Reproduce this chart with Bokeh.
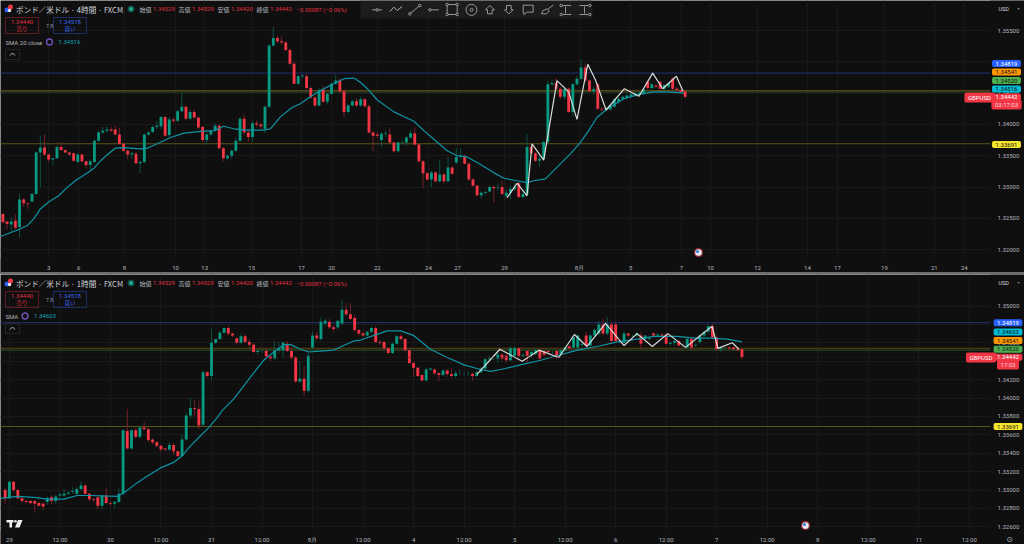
from bokeh.plotting import figure
from bokeh.layouts import column
from bokeh.models import Label, FixedTicker, NumeralTickFormatter, Spacer
from bokeh.embed import file_html
from bokeh.resources import INLINE

# ---------- data: 4-hour panel (prices in units of 0.0001) ----------
h4_open = [13257,13245,13240,13246,13236,13280,13274,13277,13289,13355,13363,13352,13344,13346,13364,13359,13355,13354,13340,13352,13341,13335,13340,13374,13387,13390,13392,13392,13384,13369,13358,13352,13353,13338,13340,13384,13388,13396,13397,13412,13383,13408,13406,13421,13428,13409,13420,13411,13396,13375,13384,13390,13398,13362,13346,13350,13358,13374,13409,13387,13380,13402,13400,13393,13428,13526,13538,13533,13531,13519,13497,13465,13477,13477,13458,13443,13430,13455,13436,13449,13465,13470,13453,13420,13430,13437,13430,13440,13429,13387,13384,13375,13385,13384,13371,13357,13371,13371,13379,13386,13368,13341,13322,13312,13323,13309,13320,13309,13331,13339,13348,13348,13337,13312,13302,13287,13291,13293,13300,13298,13300,13286,13291,13297,13306,13284,13289,13364,13354,13342,13345,13372,13464,13466,13457,13444,13457,13420,13464,13473,13491,13470,13453,13464,13425,13424,13424,13428,13436,13441,13442,13444,13446,13448,13450,13468,13458,13462,13468,13457,13460,13473,13457,13455,13453]
h4_high = [13258,13246,13252,13256,13290,13282,13274,13290,13356,13382,13384,13352,13346,13366,13372,13360,13356,13355,13354,13353,13342,13344,13376,13390,13396,13398,13396,13398,13394,13370,13360,13356,13356,13342,13386,13390,13398,13406,13414,13414,13412,13410,13424,13450,13430,13424,13424,13412,13398,13386,13392,13402,13400,13364,13352,13360,13378,13412,13416,13392,13406,13406,13402,13430,13528,13556,13542,13540,13533,13521,13500,13479,13480,13480,13460,13445,13458,13462,13450,13467,13480,13474,13455,13433,13439,13442,13444,13442,13432,13390,13388,13388,13390,13395,13372,13373,13374,13381,13392,13395,13370,13343,13324,13326,13325,13344,13323,13348,13333,13362,13362,13352,13339,13314,13304,13293,13294,13302,13302,13305,13310,13296,13302,13308,13308,13295,13385,13367,13356,13350,13374,13470,13472,13474,13460,13460,13459,13466,13478,13505,13498,13472,13460,13466,13428,13428,13432,13442,13444,13446,13448,13450,13452,13454,13458,13470,13466,13464,13470,13464,13468,13476,13460,13458,13453]
h4_low = [13241,13232,13228,13232,13219,13268,13265,13277,13289,13300,13350,13340,13335,13345,13358,13354,13350,13340,13339,13339,13330,13328,13338,13372,13385,13386,13388,13383,13368,13356,13344,13345,13336,13322,13338,13382,13386,13392,13392,13380,13380,13402,13404,13420,13407,13406,13408,13392,13372,13368,13382,13388,13360,13341,13342,13346,13356,13372,13385,13372,13372,13396,13392,13386,13426,13524,13530,13528,13517,13495,13464,13463,13474,13456,13441,13428,13428,13434,13432,13447,13463,13450,13412,13418,13428,13428,13428,13427,13385,13358,13378,13364,13380,13370,13355,13356,13368,13366,13377,13366,13339,13298,13310,13300,13307,13307,13306,13308,13319,13337,13345,13336,13310,13301,13285,13282,13288,13291,13275,13294,13287,13282,13280,13294,13282,13282,13287,13352,13340,13332,13344,13370,13462,13455,13440,13440,13418,13412,13462,13471,13468,13452,13448,13423,13420,13422,13422,13427,13434,13439,13440,13442,13444,13446,13448,13456,13456,13458,13455,13455,13458,13455,13452,13450,13442]
h4_close = [13244,13241,13245,13235,13280,13274,13273,13289,13355,13363,13352,13344,13346,13364,13359,13355,13352,13342,13352,13341,13335,13341,13374,13387,13390,13392,13390,13384,13369,13358,13352,13354,13338,13340,13384,13387,13396,13398,13412,13382,13408,13406,13421,13428,13409,13420,13411,13395,13375,13384,13390,13398,13362,13346,13350,13358,13374,13409,13387,13380,13402,13400,13397,13428,13526,13538,13533,13531,13519,13497,13465,13477,13478,13458,13443,13430,13455,13436,13449,13465,13470,13453,13420,13430,13437,13430,13440,13429,13387,13382,13382,13385,13386,13371,13357,13371,13372,13379,13386,13368,13341,13322,13312,13323,13309,13320,13309,13331,13321,13348,13349,13337,13312,13302,13287,13291,13292,13300,13298,13299,13289,13291,13297,13300,13284,13289,13364,13354,13342,13345,13372,13464,13466,13457,13444,13457,13420,13464,13473,13491,13470,13453,13456,13425,13424,13426,13430,13440,13441,13444,13446,13448,13449,13450,13456,13458,13464,13460,13457,13463,13466,13457,13455,13452,13444.2]

h4_sma_idx = [-0.6,1,3.4,5.8,7.4,9,11,13.4,15.4,17.4,20.2,21.9,23.5,25,27,29,33,34.7,37.1,40.3,43.5,47.5,50.7,53.1,55.5,58.7,62.7,64.3,66.7,69.5,71.5,73.9,76.3,79.5,82,84.4,86,87.6,90,94,98.8,101.2,104,106.8,109.2,111.6,114,118,120.4,123.6,126,127.6,130.4,132.8,136.4,138.8,140.8,142.8,145.3,149.3,152.9,156.5,159.7,163.7]
h4_sma = [13221,13225,13231,13238,13249,13265,13276,13286,13299,13310,13322,13330,13342,13351,13362,13363,13361,13362,13369,13379,13386,13389,13390,13397,13393,13391,13391,13393,13412,13427,13433,13444,13454,13465,13473,13474,13467,13457,13439,13420,13405,13390,13374,13358,13350,13348,13339,13323,13314,13310,13307,13310,13313,13329,13353,13371,13390,13411,13425,13441,13448,13452,13452,13450]
h4_zig_idx = [121.2,123.6,126,127.2,130,133.2,136,138,140.6,142.5,145,149.4,152.9,156.2,158.6,161.9,163.5]
h4_zig = [13283,13306,13286,13369,13343,13470,13452,13408,13496,13470,13423,13457,13445,13482,13457,13477,13453]
h4_tick_pos = [11,18.2,29.2,41.5,48.5,59.8,71.8,79,90,102.3,109.3,120.6,138.6,150.9,163.1,170.1,181.4,193.4,200.6,211.9,223.9,231.1]
h4_tick_txt = ["3","6","8","10","13","15","17","20","22","24","27","29","8月","5","7","10","12","14","17","19","21","24"]
h4_price_ticks = [1.355,1.35,1.345,1.34,1.335,1.33,1.325,1.32]

# ---------- data: 1-hour panel ----------
h1_open = [13300,13291,13309,13300,13291,13288,13288,13288,13286,13285,13287,13292,13288,13294,13294,13296,13298,13296,13301,13305,13296,13290,13292,13283,13294,13286,13285,13287,13296,13364,13345,13365,13358,13368,13366,13355,13352,13348,13345,13344,13349,13342,13337,13355,13381,13389,13388,13371,13428,13424,13460,13464,13471,13476,13470,13465,13460,13467,13461,13458,13450,13451,13451,13445,13443,13452,13452,13459,13451,13444,13418,13421,13408,13455,13468,13464,13481,13483,13477,13477,13481,13496,13491,13487,13474,13470,13468,13472,13476,13461,13461,13454,13449,13459,13467,13464,13452,13438,13433,13425,13419,13431,13431,13427,13425,13430,13426,13424,13427,13426,13426,13426,13424,13428,13432,13442,13443,13443,13447,13446,13441,13446,13454,13446,13451,13447,13448,13452,13451,13451,13450,13451,13447,13452,13456,13455,13455,13458,13468,13457,13468,13470,13480,13470,13480,13480,13461,13460,13470,13468,13468,13468,13464,13464,13470,13468,13469,13469,13459,13460,13462,13458,13455,13464,13457,13461,13468,13472,13478,13466,13453,13454,13455,13455,13453,13452.9]
h1_high = [13302,13310,13310,13301,13292,13289,13289,13289,13287,13286,13293,13294,13295,13297,13301,13299,13303,13303,13309,13306,13297,13291,13294,13295,13303,13288,13288,13302,13366,13388,13366,13368,13370,13374,13368,13356,13353,13349,13346,13352,13351,13343,13361,13384,13400,13398,13397,13430,13430,13475,13464,13473,13477,13478,13471,13466,13470,13470,13464,13460,13453,13453,13453,13446,13462,13461,13462,13462,13455,13446,13440,13435,13450,13472,13472,13488,13486,13486,13479,13484,13507,13503,13503,13490,13475,13472,13473,13478,13478,13463,13462,13455,13460,13469,13470,13465,13453,13439,13434,13426,13433,13433,13432,13428,13431,13431,13432,13430,13431,13428,13429,13428,13430,13434,13444,13446,13446,13450,13449,13448,13456,13456,13455,13448,13452,13452,13454,13454,13452,13452,13451,13452,13453,13456,13458,13467,13469,13460,13472,13470,13476,13484,13486,13488,13482,13482,13462,13472,13471,13469,13472,13471,13468,13466,13471,13470,13470,13470,13461,13464,13463,13459,13466,13466,13459,13469,13473,13480,13481,13467,13456,13456,13456,13456,13454,13453]
h1_low = [13285,13290,13298,13290,13286,13286,13284,13276,13282,13278,13284,13284,13285,13292,13293,13295,13296,13294,13299,13295,13288,13287,13279,13279,13285,13283,13280,13286,13295,13344,13344,13356,13356,13365,13353,13350,13346,13342,13342,13342,13338,13335,13336,13354,13378,13380,13366,13369,13422,13420,13459,13463,13470,13468,13466,13458,13459,13460,13454,13449,13447,13449,13443,13440,13442,13449,13444,13450,13442,13416,13416,13402,13406,13453,13463,13462,13478,13475,13472,13475,13480,13489,13485,13472,13468,13467,13467,13470,13460,13458,13452,13448,13448,13458,13462,13451,13437,13423,13423,13418,13418,13430,13425,13418,13424,13423,13422,13421,13425,13424,13424,13419,13423,13427,13431,13440,13441,13438,13441,13439,13440,13444,13444,13445,13438,13443,13446,13441,13445,13448,13448,13443,13445,13451,13452,13454,13454,13456,13455,13456,13466,13468,13468,13468,13460,13460,13459,13459,13466,13466,13466,13453,13463,13462,13467,13467,13467,13458,13457,13457,13456,13455,13453,13452,13456,13459,13466,13470,13464,13452,13450,13452,13452,13452,13451,13442]
h1_close = [13291,13309,13300,13291,13288,13287,13286,13285,13283,13282,13291,13288,13293,13295,13296,13297,13299,13301,13305,13296,13290,13289,13283,13294,13286,13285,13287,13296,13365,13345,13365,13358,13368,13366,13354,13352,13348,13344,13344,13349,13342,13337,13355,13381,13389,13388,13370,13428,13424,13460,13464,13471,13476,13470,13468,13460,13467,13461,13458,13450,13451,13451,13445,13443,13452,13454,13460,13451,13444,13418,13421,13408,13446,13468,13465,13483,13484,13477,13475,13484,13496,13491,13486,13474,13470,13468,13472,13476,13461,13460,13454,13449,13459,13467,13464,13452,13438,13433,13424,13419,13431,13432,13427,13425,13430,13426,13424,13427,13427,13426,13426,13424,13428,13432,13442,13443,13443,13447,13443,13441,13454,13454,13446,13447,13446,13450,13452,13443,13447,13450,13450,13444,13452,13455,13454,13466,13468,13459,13457,13468,13474,13480,13470,13480,13462,13462,13461,13470,13468,13468,13470,13459,13468,13465,13468,13469,13468,13459,13460,13462,13457,13458,13464,13455,13458,13468,13472,13478,13466,13453,13454,13454,13454,13453,13452,13444.2]

h1_sma_idx = [-1,2.9,6.8,10,13.9,17.1,20.3,26.6,28.2,31.4,33.7,36.9,40,42,44,46.4,48.4,50.4,51.5,54.3,58.3,61.4,63.8,66.2,67.8,70.2,72.1,74.9,78,80.4,82.8,84.4,87.6,90.7,93.9,97,101,105,109,112.9,115.3,117.7,122.4,127.2,131.9,135.9,140.6,145.4,150.1,154.1,159.6,163.6,167.5,171.5,175]
h1_sma = [13291,13293,13292,13290,13290,13294,13294,13293,13297,13308,13315,13324,13330,13337,13348,13359,13368,13379,13386,13399,13423,13441,13450,13458,13458,13453,13450,13451,13452,13457,13462,13463,13468,13473,13473,13468,13453,13444,13436,13431,13429,13431,13436,13441,13447,13452,13456,13461,13464,13467,13467,13465,13465,13464,13461]
h1_zig_idx = [112.1,117.5,122.8,126.8,131.5,135.2,138.2,142.6,147,150.1,153.7,157.4,161.6,167.9,169.3,172.7,174.3]
h1_zig = [13426,13453,13440,13452,13444,13469,13456,13481,13457,13470,13456,13470,13455,13478,13454,13460,13453]
h1_tick_pos = [1,13,25,37,49,61,73,85,97,109,121,133,145,157,169,181,193,205,217,229]
h1_tick_txt = ["29","12:00","30","12:00","31","12:00","8月","12:00","4","12:00","5","12:00","6","12:00","7","12:00","8","12:00","11","12:00"]
h1_price_ticks = [1.35,1.348,1.346,1.344,1.342,1.34,1.338,1.336,1.334,1.332,1.33,1.328,1.326]

levels = [1.34819, 1.34541, 1.34520, 1.33691]
level_cols = ["#1d2a63", "#5e4310", "#2c4a28", "#5c5518"]

BG = "#0f0f0f"; UP = "#089981"; DN = "#f23645"; TXT = "#b2b5be"; FONT = "Roboto"; JP = "Noto Sans CJK JP"
UPW = "#0b5f51"; DNW = "#8a2530"


def price(v):
    return [a / 1e4 for a in v]


def panel(o, h, l, c, sma_i, sma, zig_i, zig, tp, tt, pt, fx, fy, y_top, y_axis, y_bot, fig_h):
    # the frame fills the figure, so the price tags can sit over the scale; both axes are pinned inside it
    p = figure(width=1024, height=fig_h, x_range=(fx(0), fx(1024)), y_range=(fy(y_bot), fy(y_top)),
               y_axis_location="right", output_backend="svg", toolbar_location=None,
               background_fill_color=BG, border_fill_color=BG, min_border=0,
               min_border_left=0, min_border_top=0, min_border_right=0, min_border_bottom=0)
    p.outline_line_color = None
    for ax in (p.xaxis[0], p.yaxis[0]):
        ax.axis_line_color = None
        ax.major_tick_line_color = None
        ax.minor_tick_line_color = None
        ax.major_tick_out = 0
        ax.major_tick_in = 0
        ax.minor_tick_out = 0
        ax.minor_tick_in = 0
        ax.major_label_text_color = TXT
        ax.major_label_text_font = FONT
        ax.major_label_text_font_size = "6px"
    p.yaxis[0].ticker = FixedTicker(ticks=pt)
    p.yaxis[0].formatter = NumeralTickFormatter(format="0.00000")
    p.yaxis[0].major_label_standoff = 7
    p.yaxis[0].fixed_location = fx(990)
    p.xaxis[0].ticker = FixedTicker(ticks=tp)
    p.xaxis[0].major_label_overrides = {float(a): b for a, b in zip(tp, tt)}
    p.xaxis[0].major_label_standoff = 5
    p.xaxis[0].fixed_location = fy(y_axis)
    p.xgrid.grid_line_color = "#191919"
    p.ygrid.grid_line_color = "#191919"
    # blank the scale strips over the grid
    p.quad(left=fx(990), right=fx(1024), top=fy(y_top), bottom=fy(y_bot), fill_color=BG, line_color=None)
    p.quad(left=fx(0), right=fx(1024), top=fy(y_axis), bottom=fy(y_bot), fill_color=BG, line_color=None)
    x_all = [fx(0), fx(990)]
    for lv, col in zip(levels, level_cols):
        p.line(x_all, [lv, lv], line_color=col, line_width=1.1)
    idx = list(range(len(o)))
    po, ph, pl, pc = price(o), price(h), price(l), price(c)
    wick = [UPW if b >= a else DNW for a, b in zip(po, pc)]
    body = [UP if b >= a else DN for a, b in zip(po, pc)]
    p.segment(idx, ph, idx, pl, line_color=wick, line_width=0.8)
    p.vbar(idx, 0.68, po, pc, fill_color=body, line_color=None)
    p.line(sma_i, price(sma), line_color="#0f93a6", line_width=1.2)
    p.line(zig_i, price(zig), line_color="#dcdcdc", line_width=1.2)
    return p


def txt(p, fx, fy, px, py, s, col=TXT, size=6, font=FONT, align="left", **kw):
    p.add_layout(Label(x=fx(px), y=fy(py), text=s, text_color=col, text_font_size=f"{size}px",
                       text_font=font, text_align=align, text_baseline="middle", **kw))


def tag(p, fx, fy, py, s, bg, col, width_px=1006):
    p.add_layout(Label(x=fx(width_px), y=fy(py), text=s, text_color=col, text_font_size="6px", text_font=FONT,
                       text_align="center", text_baseline="middle", background_fill_color=bg,
                       border_line_color=bg, border_line_width=1, padding=(3, 1), border_radius=1))


def poly(p, fx, fy, pts, col=TXT, width=0.8):
    p.line([fx(a) for a, b in pts], [fy(b) for a, b in pts], line_color=col, line_width=width)


def header(p, fx, fy, top, frame, sma_txt, sma_val, sma_x, val_x):
    p.scatter([fx(6.5)], [fy(top + 9.5)], size=5, fill_color="#2962ff", line_color=None)
    p.scatter([fx(10)], [fy(top + 6.5)], size=5, fill_color="#f23645", line_color=None)
    p.scatter([fx(9)], [fy(top + 10)], size=3.5, fill_color="#e8e8e8", line_color=None)
    txt(p, fx, fy, 15.5, top + 8.5, frame, "#d1d4dc", 7.6, JP)
    p.scatter([fx(130.5)], [fy(top + 8.5)], size=7, fill_color="#0f4a41", line_color=None)
    p.scatter([fx(130.5)], [fy(top + 8.5)], size=4, fill_color="#22ab94", line_color=None)
    for x, a, v in [(139, "始値", "1.34529"), (178, "高値", "1.34529"), (217, "安値", "1.34420"), (256, "終値", "1.34442")]:
        txt(p, fx, fy, x, top + 8.5, a, TXT, 6, JP)
        txt(p, fx, fy, x + 13.5, top + 8.5, v, "#e0303f", 6)
    txt(p, fx, fy, 296, top + 8.5, "−0.00087 (−0.06%)", "#e0303f", 6)
    for x0, col, v, t in [(5, "#6a1d26", "1.34440", "売り"), (53, "#1d3274", "1.34518", "買い")]:
        poly(p, fx, fy, [(x0, top + 17), (x0 + 33, top + 17), (x0 + 33, top + 33), (x0, top + 33), (x0, top + 17)], col, 0.9)
        tc = "#e0303f" if x0 == 5 else "#3a68f0"
        txt(p, fx, fy, x0 + 16.5, top + 21.5, v, tc, 6, FONT, "center")
        txt(p, fx, fy, x0 + 16.5, top + 28, t, tc, 5.5, JP, "center")
    txt(p, fx, fy, 45.5, top + 25, "7.8", "#9598a1", 5)
    txt(p, fx, fy, 5, top + 41.5, sma_txt, TXT, 6)
    p.scatter([fx(sma_x)], [fy(top + 41.5)], size=6, fill_color=BG, line_color="#6f52b5", line_width=1.4)
    txt(p, fx, fy, val_x, top + 41.5, sma_val, "#12a3b8", 6)
    poly(p, fx, fy, [(5, top + 49), (19, top + 49), (19, top + 59), (5, top + 59), (5, top + 49)], "#2a2a2a", 0.8)
    poly(p, fx, fy, [(9.5, top + 55), (12, top + 52.5), (14.5, top + 55)], "#d1d4dc", 0.9)


# ---------- 4-hour panel ----------
top_x = lambda px: (px - 2.4) / 4.16
top_y = lambda py: (13550 - (py - 30) * 1.5974) / 1e4
p1 = panel(h4_open, h4_high, h4_low, h4_close, h4_sma_idx, h4_sma, h4_zig_idx, h4_zig,
           h4_tick_pos, h4_tick_txt, h4_price_ticks, top_x, top_y, 0, 258, 272, 272)
header(p1, top_x, top_y, 0, "ポンド／米ドル · 4時間 · FXCM", "SMA 20 close", "1.34516", 49, 58)

p1.patch([top_x(a) for a in (360, 592, 592, 360)], [top_y(b) for b in (0, 0, 18, 18)], fill_color="#1c1c1c", line_color=None)
Z = lambda a: 360 + a / 3
def icon(pts, w=0.8):
    poly(p1, top_x, top_y, [(Z(a), b / 3) for a, b in pts], "#b2b5be", w)
def dots(pts, size=2.5):
    p1.scatter([top_x(Z(a)) for a, b in pts], [top_y(b / 3) for a, b in pts], size=size, fill_color="#1c1c1c", line_color="#b2b5be", line_width=0.8)
icon([(35, 28), (65, 28)]); dots([(50, 28)])
icon([(88, 33), (100, 20), (110, 30), (125, 18)], 1.0)
icon([(148, 40), (178, 15)]); dots([(148, 40), (178, 15)])
icon([(205, 28), (235, 28)]); dots([(208, 28)])
icon([(260, 12), (290, 12), (290, 42), (260, 42), (260, 12)]); dots([(260, 12), (290, 12), (290, 42), (260, 42)])
dots([(333, 28)], 3)
p1.scatter([top_x(Z(333))], [top_y(28 / 3)], size=11, fill_color=None, line_color="#b2b5be", line_width=0.8)
icon([(375, 28), (388, 15), (402, 28), (395, 28), (395, 40), (381, 40), (381, 28), (375, 28)])
icon([(432, 28), (438, 28), (438, 15), (452, 15), (452, 28), (458, 28), (445, 40), (432, 28)])
icon([(488, 14), (518, 14), (518, 35), (500, 35), (490, 42), (490, 35), (488, 35), (488, 14)])
icon([(543, 40), (548, 30), (560, 25), (566, 32), (558, 40), (543, 40)]); icon([(562, 26), (578, 14)])
icon([(600, 15), (632, 15)]); icon([(600, 42), (632, 42)]); icon([(615, 18), (615, 39)]); dots([(602, 15), (602, 42)])
icon([(657, 15), (690, 15)]); icon([(657, 42), (690, 42)]); icon([(672, 18), (672, 39)]); dots([(688, 15), (688, 42)])

p1.scatter([top_x(698)], [top_y(252)], size=8, fill_color="#e6e9f0", line_color="#8c2230", line_width=1.3)
p1.scatter([top_x(697)], [top_y(251)], size=3, fill_color="#2f7fd8", line_color=None)

txt(p1, top_x, top_y, 998, 8, "USD", "#d1d4dc", 5.5)
txt(p1, top_x, top_y, 1017, 8, "▾", "#9598a1", 4, "DejaVu Sans")
tag(p1, top_x, top_y, 144, "1.33691", "#f7e62e", "#131313")
tag(p1, top_x, top_y, 104, "03:17:03", "#f23645", "#ffd5d9")
tag(p1, top_x, top_y, 63, "1.34819", "#2962ff", "#ffffff")
tag(p1, top_x, top_y, 71.5, "1.34541", "#ff9800", "#131313")
tag(p1, top_x, top_y, 80, "1.34520", "#4caf50", "#131313")
tag(p1, top_x, top_y, 88.5, "1.34516", "#00bcd4", "#131313")
tag(p1, top_x, top_y, 96.5, "1.34442", "#f23645", "#ffffff")
tag(p1, top_x, top_y, 97, "GBPUSD", "#f23645", "#ffffff", 979)

# ---------- 1-hour panel ----------
bot_x = lambda px: (px - 4.7) / 4.21
bot_y = lambda py: (13500 - (py - 305.5) / 0.92) / 1e4
p2 = panel(h1_open, h1_high, h1_low, h1_close, h1_sma_idx, h1_sma, h1_zig_idx, h1_zig,
           h1_tick_pos, h1_tick_txt, h1_price_ticks, bot_x, bot_y, 274, 530, 544, 270)
p2.line([bot_x(0), bot_x(990)], [1.34442, 1.34442], line_color="#3a1a20", line_width=0.8, line_dash="2 2")
header(p2, bot_x, bot_y, 274, "ポンド／米ドル · 1時間 · FXCM", "SMA", "1.34603", 24.5, 33.5)

p2.scatter([bot_x(805)], [bot_y(525)], size=8, fill_color="#e6e9f0", line_color="#8c2230", line_width=1.3)
p2.scatter([bot_x(804)], [bot_y(524)], size=3, fill_color="#2f7fd8", line_color=None)

for pts in ([(6, 519.5), (13, 519.5), (13, 522), (11.5, 522), (11.5, 527), (9, 527), (9, 522), (6, 522)],
            [(17.5, 519.5), (22, 519.5), (19, 527), (14.5, 527)]):
    p2.patch([bot_x(a) for a, b in pts], [bot_y(b) for a, b in pts], fill_color="#f0f0f0", line_color=None)
p2.scatter([bot_x(15)], [bot_y(520.7)], size=2.5, fill_color="#f0f0f0", line_color=None)

txt(p2, bot_x, bot_y, 998, 282, "USD", "#d1d4dc", 5.5)
txt(p2, bot_x, bot_y, 1017, 282, "▾", "#9598a1", 4, "DejaVu Sans")
tag(p2, bot_x, bot_y, 426, "1.33691", "#f7e62e", "#131313", 1007.5)
tag(p2, bot_x, bot_y, 364, "17:03", "#f23645", "#ffd5d9", 1007.5)
tag(p2, bot_x, bot_y, 322.3, "1.34819", "#2962ff", "#ffffff", 1007.5)
tag(p2, bot_x, bot_y, 331.5, "1.34603", "#00bcd4", "#131313", 1007.5)
tag(p2, bot_x, bot_y, 340, "1.34541", "#ff9800", "#131313", 1007.5)
tag(p2, bot_x, bot_y, 348.7, "1.34520", "#4caf50", "#131313", 1007.5)
tag(p2, bot_x, bot_y, 356.7, "1.34442", "#f23645", "#ffffff", 1007.5)
tag(p2, bot_x, bot_y, 357, "GBPUSD", "#f23645", "#ffffff", 980.5)
txt(p2, bot_x, bot_y, 1009, 538.5, "⊙", "#b2b5be", 8, "DejaVu Sans", "center")

sep = Spacer(width=1024, height=2, styles={"background-color": "#6e6e6e"})
page = column(p1, sep, p2, spacing=0)
open("out.html", "w").write(file_html(page, INLINE))
